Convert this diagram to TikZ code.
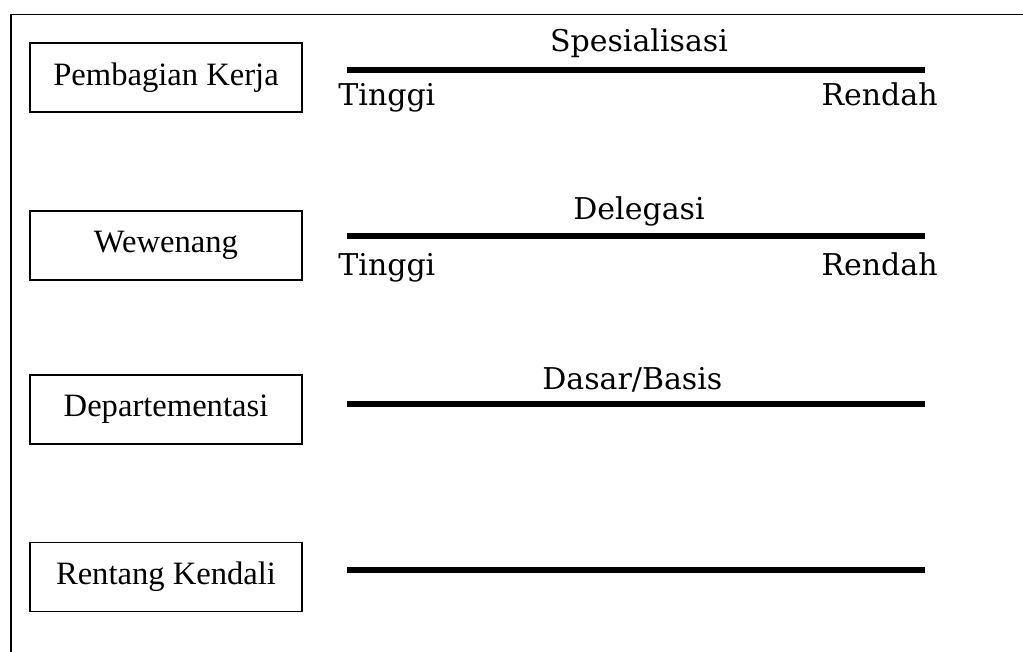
\documentclass[tikz,border=0pt]{standalone}
\usepackage{fontspec}
\setmainfont{Liberation Serif}
\newfontfamily\scalefont{DejaVu Serif}
\usepackage{tikz}
\usetikzlibrary{positioning}
\tikzset{
    %Define style for boxes
    aspek/.style={
           rectangle,
           draw=black, line width=0.75pt,
           minimum width=136pt,
           minimum height=34.5pt,
           inner sep=0pt,
           font=\fontsize{16.3}{19}\selectfont,
           text centered},
    %Define style for scale labels
    skala/.style={
           inner sep=0pt,
           font=\scalefont\fontsize{15}{18}\selectfont},
    % Define scale line style
    garis/.style={
           line width=3pt,
           line cap=butt}
}
\begin{document}
\begin{tikzpicture}[x=0.5pt,y=-0.5pt]
\useasboundingbox (0,0) rectangle (1023,652);
 %frame
\draw[line width=0.75pt] (11,652) -- (11,14.5) -- (1023,14.5);
 %boxes
\node[aspek] (kerja) at (166,77.5) {Pembagian Kerja};
\node[aspek] (wewenang) at (166,245.5) {Wewenang};
\node[aspek] (dept) at (166,409.5) {Departementasi};
\node[aspek] (rentang) at (166,577) {Rentang Kendali};
 %scale lines
\coordinate (a1) at (347,70);  \coordinate (b1) at (925,70);
\coordinate (a2) at (347,236); \coordinate (b2) at (925,236);
\coordinate (a3) at (347,404); \coordinate (b3) at (925,404);
\coordinate (a4) at (347,570); \coordinate (b4) at (925,570);
\path[garis]
   (a1) edge (b1)
   (a2) edge (b2)
   (a3) edge (b3)
   (a4) edge (b4);
 %labels
\node[skala, anchor=base] (spes) at (639,52) {Spesialisasi};
\node[skala, anchor=base west] (t1) at (338,106) {Tinggi};
\node[skala, anchor=base east] (r1) at (938,106) {Rendah};
\node[skala, anchor=base] (dele) at (639,220) {Delegasi};
\node[skala, anchor=base west] (t2) at (338,276) {Tinggi};
\node[skala, anchor=base east] (r2) at (938,276) {Rendah};
\node[skala, anchor=base west] (dasar) at (542,389) {Dasar/Basis};
\end{tikzpicture}
\end{document}
